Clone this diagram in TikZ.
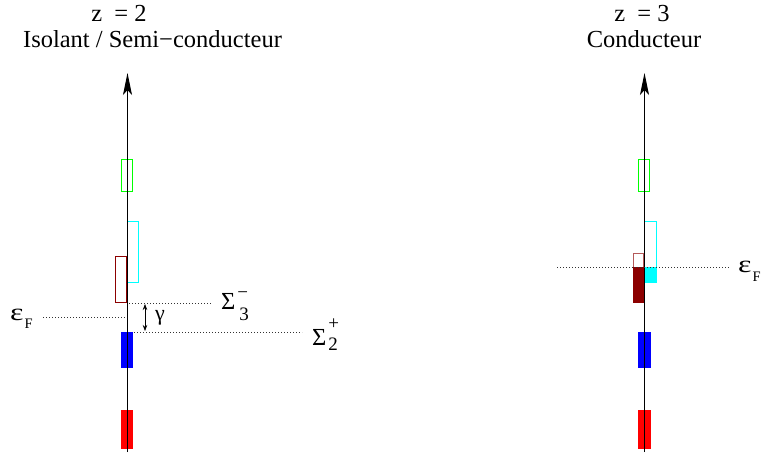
\documentclass[tikz,border=0pt]{standalone}
\usepackage{fontspec}
\setmainfont{Liberation Serif}
\usetikzlibrary{arrows.meta}
\definecolor{dred}{rgb}{0.55,0,0}
\definecolor{pgreen}{rgb}{0,1,0}
\definecolor{pcyan}{rgb}{0,1,1}
\definecolor{pblue}{rgb}{0,0,1}
\definecolor{pred}{rgb}{1,0,0}
\newcommand{\bigf}{\fontsize{24.5}{26}\selectfont}
\newcommand{\midf}{\fontsize{19}{20}\selectfont}
\newcommand{\smf}{\fontsize{14.5}{15}\selectfont}
\newcommand{\eps}{\scalebox{1.45}[1.1]{ε}}
\begin{document}
\begin{tikzpicture}[x=1pt,y=-1pt,
  band/.style={line width=1.3pt},
  lev/.style={dash pattern=on 0.8pt off 2.2pt, line width=0.8pt, black!80},
  axisline/.style={line width=0.9pt,-{Stealth[length=22pt,width=9pt,inset=5pt]}},
  lbl/.style={inner sep=0pt, anchor=base west, font=\bigf},
  ttl/.style={inner sep=0pt, anchor=base, font=\bigf},
  gap/.style={line width=0.7pt,{Stealth[length=6pt,width=4.5pt]}-{Stealth[length=6pt,width=4.5pt]}},
]
\useasboundingbox (0,0) rectangle (763,454);

% ---------- left: z = 2 ----------
\node[ttl] (z2) at (119,22) {z\ \ = 2};
\node[ttl] (t2) at (152.5,48) {Isolant / Semi−conducteur};

\draw[band, pgreen] (121.6,159.6) rectangle (132.4,191.4);
\draw[band, pcyan] (127.6,221.6) rectangle (138.4,282.4);
\draw[band, dred] (115.6,256.6) rectangle (127,302.4);
\fill[pblue] (121,332) rectangle (133,368);
\fill[pred] (121,410) rectangle (133,449);

\coordinate (L0) at (127.5,452);
\coordinate (L1) at (127.5,73);
\draw[axisline] (L0) -- (L1);

\coordinate (s3a) at (129,303.5);
\coordinate (s3b) at (212,303.5);
\coordinate (efa) at (43,317.5);
\coordinate (efb) at (126,317.5);
\coordinate (s2a) at (134,332.5);
\coordinate (s2b) at (302,332.5);
\draw[lev] (s3a) -- (s3b);
\draw[lev] (efa) -- (efb);
\draw[lev] (s2a) -- (s2b);

\coordinate (g1) at (145,304);
\coordinate (g2) at (145,331);
\draw[gap] (g1) -- (g2);
\node[lbl, font=\fontsize{22}{24}\selectfont] (gam) at (155,320) {γ};

\node[lbl] (S3) at (221,310) {Σ\rlap{\raisebox{11pt}{\midf\hspace{2pt}−}}\raisebox{-10pt}{\midf\hspace{4pt}3}};
\node[lbl] (S2) at (312,345) {Σ\rlap{\raisebox{16pt}{\midf\hspace{2pt}+}}\raisebox{-5pt}{\midf\hspace{2pt}2}};
\node[lbl, font=\fontsize{22}{24}\selectfont] (EF1) at (10,320) {\eps\raisebox{-8pt}{\smf\hspace{1pt}F}};

% ---------- right: z = 3 ----------
\node[ttl] (z3) at (642,22) {z\ \ = 3};
\node[ttl] (t3) at (644,48) {Conducteur};

\draw[band, pgreen] (638.6,159.6) rectangle (649.4,191.4);
\draw[band, pcyan] (644.6,221.6) rectangle (656.4,282.4);
\fill[pcyan] (644,267) rectangle (657,283);
\draw[band, dred!65] (633.6,253.6) rectangle (644,302.4);
\fill[dred] (633,267) rectangle (644,303);
\fill[pblue] (638,332) rectangle (651,368);
\fill[pred] (638,410) rectangle (651,449);

\coordinate (R0) at (644.5,452);
\coordinate (R1) at (644.5,73);
\draw[axisline] (R0) -- (R1);

\coordinate (efc) at (557,267.5);
\coordinate (efd) at (730,267.5);
\draw[lev] (efc) -- (efd);
\node[lbl, font=\fontsize{22}{24}\selectfont] (EF2) at (738,273) {\eps\raisebox{-9pt}{\smf\hspace{1pt}F}};
\end{tikzpicture}
\end{document}
